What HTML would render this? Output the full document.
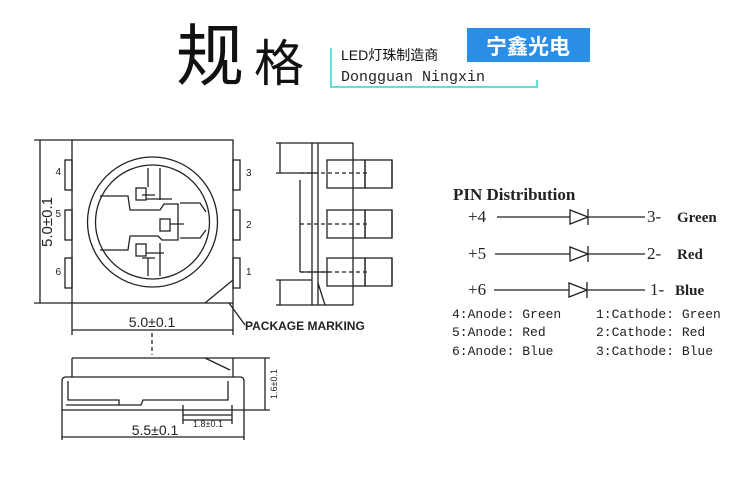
<!DOCTYPE html>
<html><head><meta charset="utf-8"><style>
html,body{margin:0;padding:0;background:#fff;}
svg{display:block}
</style></head><body>
<svg width="750" height="492" viewBox="0 0 750 492" xmlns="http://www.w3.org/2000/svg">
<rect width="750" height="492" fill="#fff"/>
<!-- header -->
<text x="176" y="80" font-family="Noto Sans CJK SC, sans-serif" font-size="68" fill="#111">规</text>
<text x="254" y="81" font-family="Noto Sans CJK SC, sans-serif" font-size="50" fill="#111">格</text>
<path d="M331,48 V87 H537 V80" fill="none" stroke="#5fe0d8" stroke-width="2"/>
<rect x="467" y="28" width="123" height="34" fill="#2b8ee6"/>
<text x="528" y="54" text-anchor="middle" font-family="Noto Sans CJK SC, sans-serif" font-size="21" font-weight="bold" fill="#fff">宁鑫光电</text>
<text x="341" y="60" font-family="Liberation Sans, Noto Sans CJK SC, sans-serif" font-size="14" fill="#111">LED灯珠制造商</text>
<text x="341" y="81" font-family="Liberation Mono, monospace" font-size="15" fill="#222">Dongguan Ningxin</text>

<g fill="none" stroke="#222" stroke-width="1.3">
<rect x="72" y="140" width="161" height="163"/>
<rect x="65" y="160" width="7" height="30"/><rect x="65" y="210" width="7" height="30"/><rect x="65" y="258" width="7" height="30"/>
<rect x="233" y="160" width="7" height="30"/><rect x="233" y="210" width="7" height="30"/><rect x="233" y="258" width="7" height="30"/>
<circle cx="152.5" cy="222" r="65"/>
<circle cx="152.5" cy="222" r="57"/>
<path d="M148,168 V187 M160,168 V200 M142,195 L155,195 M100,196 H128 L130,210 H160 L164,204 H178 V240 H162 L158,236 H130 L128,250 H100"/>
<path d="M180,203 H200 L206,212 M180,238 H200 L206,230 M160,243 V276 M148,258 V276 M142,258 H155"/>
<rect x="136" y="188" width="10" height="12"/><rect x="160" y="219" width="10" height="12"/><rect x="136" y="244" width="10" height="12"/>
<path d="M146,199 H172 M170,224 H184 M146,253 H164"/>
<path d="M205,303 L233,280"/>
<path d="M229,303 L245,325"/>
<path d="M40,140 V303 M34,140 H72 M34,303 H72"/>
<path d="M72,303 V335 M233,303 V335 M72,330 H233"/>
<path d="M152,333 V355" stroke-dasharray="4,3"/>
<rect x="312" y="143" width="41" height="162"/>
<path d="M318,143 V305 M318,283 L325,305"/>
<rect x="327" y="160" width="38" height="28"/><rect x="365" y="160" width="27" height="28"/>
<rect x="327" y="210" width="38" height="28"/><rect x="365" y="210" width="27" height="28"/>
<rect x="327" y="258" width="38" height="28"/><rect x="365" y="258" width="27" height="28"/>
<path d="M280,143 V173 M276,143 H312 M276,173 H318 M300,180 V272 M300,272 H330 M280,280 V305 M276,280 H312 M276,305 H312 M392,160 V188 M392,210 V238 M392,258 V286"/>
<path d="M300,173 H370 M300,224 H370 M300,272 H370" stroke-dasharray="4,3"/>
<path d="M72,358 H233 V377 M72,358 V377 M205,358 L230,370"/>
<path d="M62,381 Q62,377 66,377 H240 Q244,377 244,381 V410 H62 Z"/>
<path d="M68,381 V400 H119 V405 H141 L143,400 H228 V381"/>
<path d="M66,405 H120 M183,405 V415 H232 V405"/>
<path d="M62,410 V440 M244,410 V440 M62,437 H244"/>
<path d="M233,358 H270 M244,410 H270 M265,358 V410"/>
<path d="M183,415 V424 M232,415 V424 M183,420 H232"/>
<path d="M497,217 H570 M588,217 H645 M570,210 L570,224 L588,217 Z M588,209 V225"/>
<path d="M495,254 H570 M588,254 H645 M570,247 L570,261 L588,254 Z M588,246 V262"/>
<path d="M494,290 H569 M587,290 H645 M569,283 L569,297 L587,290 Z M587,282 V298"/>
</g>
<g font-family="Liberation Sans, sans-serif" fill="#222">
<text x="48" y="222" font-size="15" transform="rotate(-90 48 222)" text-anchor="middle" dominant-baseline="middle">5.0±0.1</text>
<text x="152" y="327" font-size="14" text-anchor="middle">5.0±0.1</text>
<text x="155" y="435" font-size="14" text-anchor="middle">5.5±0.1</text>
<text x="208" y="427" font-size="9" text-anchor="middle">1.8±0.1</text>
<text x="277" y="384" font-size="9" transform="rotate(-90 277 384)" text-anchor="middle">1.6±0.1</text>
<text x="245" y="330" font-size="12" font-weight="bold">PACKAGE MARKING</text>
<text x="61" y="175" font-size="10" text-anchor="end">4</text>
<text x="61" y="217" font-size="10" text-anchor="end">5</text>
<text x="61" y="275" font-size="10" text-anchor="end">6</text>
<text x="246" y="176" font-size="10">3</text>
<text x="246" y="228" font-size="10">2</text>
<text x="246" y="275" font-size="10">1</text>
</g>
<g font-family="Liberation Serif, serif" fill="#222">
<text x="453" y="200" font-size="17" font-weight="bold">PIN Distribution</text>
<text x="468" y="222" font-size="17">+4</text>
<text x="468" y="259" font-size="17">+5</text>
<text x="468" y="295" font-size="17">+6</text>
<text x="647" y="222" font-size="17">3-</text>
<text x="647" y="259" font-size="17">2-</text>
<text x="650" y="295" font-size="17">1-</text>
<text x="677" y="222" font-size="15" font-weight="bold">Green</text>
<text x="677" y="259" font-size="15" font-weight="bold">Red</text>
<text x="675" y="295" font-size="15" font-weight="bold">Blue</text>
</g>
<g font-family="Liberation Mono, monospace" font-size="13" fill="#222">
<text x="452" y="318">4:Anode: Green</text>
<text x="452" y="336">5:Anode: Red</text>
<text x="452" y="355">6:Anode: Blue</text>
<text x="596" y="318">1:Cathode: Green</text>
<text x="596" y="336">2:Cathode: Red</text>
<text x="596" y="355">3:Cathode: Blue</text>
</g>
</svg>
</body></html>
